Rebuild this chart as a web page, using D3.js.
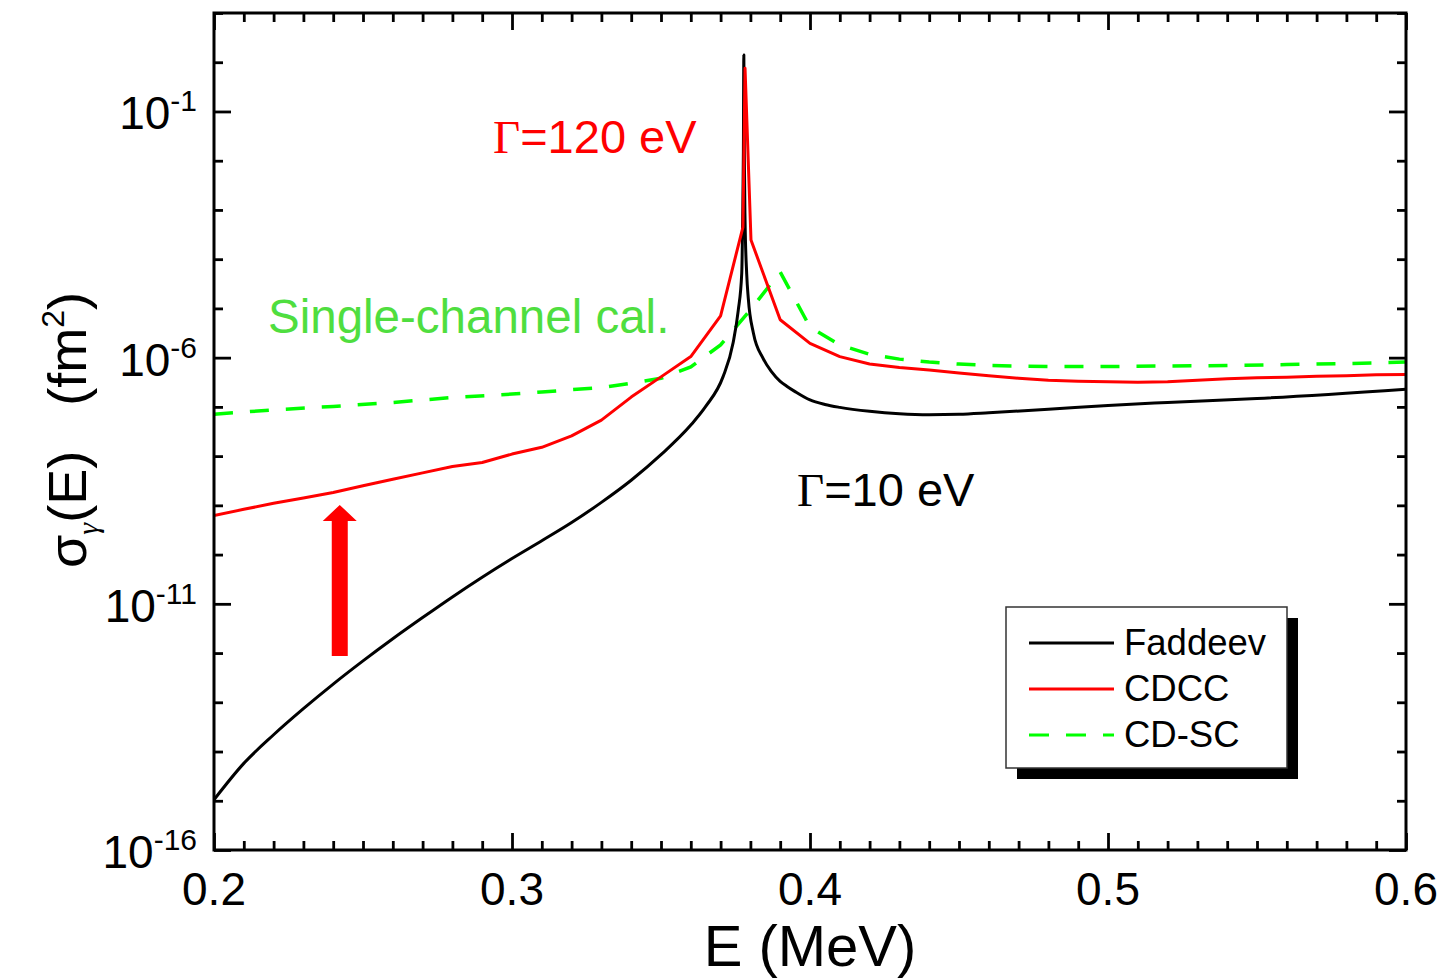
<!DOCTYPE html>
<html><head><meta charset="utf-8">
<script src="https://cdn.jsdelivr.net/npm/d3@7"></script>
<style>body{margin:0;background:#fff;} svg{display:block;}</style>
</head><body>
<svg id="chart" width="1441" height="979"></svg>
<script>
// ---- data ----
const energyFaddeev = [0.20,0.21,0.22,0.23,0.24,0.25,0.26,0.27,0.28,0.29,0.30,0.31,0.32,0.33,0.34,0.35,0.36,0.365,0.3708,0.3742,0.3759,0.3771,0.3774,0.37765,0.3778,0.37795,0.3782,0.37876,0.3793,0.3810,0.3843,0.3870,0.3900,0.3922,0.3950,0.40,0.405,0.41,0.42,0.43,0.44,0.45,0.46,0.48,0.50,0.52,0.55,0.60];
const sigmaFaddeev = [1.05e-15,5.75e-15,2.19e-14,7.41e-14,2.34e-13,6.92e-13,1.95e-12,5.25e-12,1.38e-11,3.47e-11,8.32e-11,1.91e-10,4.47e-10,1.15e-9,3.24e-9,1.07e-8,4.27e-8,1.02e-7,4.07e-7,2.0e-6,8.9e-6,5.25e-5,6.3e-4,1.58e-2,1.41,1.58e-2,6.3e-4,5.0e-5,1.58e-5,3.16e-6,9.55e-7,5.25e-7,3.31e-7,2.63e-7,2.04e-7,1.38e-7,1.12e-7,9.77e-8,8.13e-8,7.24e-8,6.92e-8,7.08e-8,7.59e-8,8.91e-8,1.07e-7,1.23e-7,1.48e-7,2.29e-7];

const energyCDCC = [0.20,0.21,0.22,0.23,0.24,0.25,0.26,0.27,0.28,0.29,0.30,0.31,0.32,0.33,0.34,0.35,0.36,0.37,0.3775,0.3782,0.3802,0.39,0.40,0.41,0.42,0.43,0.44,0.45,0.46,0.47,0.48,0.49,0.50,0.51,0.52,0.53,0.54,0.55,0.56,0.57,0.58,0.59,0.60];
const sigmaCDCC = [6.2e-10,8.3e-10,1.1e-9,1.41e-9,1.82e-9,2.51e-9,3.39e-9,4.57e-9,6.17e-9,7.41e-9,1.10e-8,1.51e-8,2.57e-8,5.37e-8,1.58e-7,4.07e-7,1.05e-6,7.08e-6,4.47e-4,0.753,2.45e-4,5.89e-6,1.95e-6,1.05e-6,7.41e-7,6.31e-7,5.62e-7,4.90e-7,4.27e-7,3.80e-7,3.47e-7,3.31e-7,3.24e-7,3.16e-7,3.24e-7,3.47e-7,3.72e-7,3.89e-7,3.98e-7,4.17e-7,4.27e-7,4.47e-7,4.57e-7];

const energyCDSC = [0.20,0.22,0.24,0.26,0.28,0.30,0.31,0.32,0.33,0.34,0.35,0.36,0.37,0.38,0.39,0.40,0.41,0.42,0.43,0.44,0.45,0.46,0.48,0.50,0.52,0.54,0.56,0.58,0.60];
const sigmaCDSC = [7.08e-8,8.71e-8,1.02e-7,1.23e-7,1.55e-7,1.82e-7,2.0e-7,2.24e-7,2.45e-7,3.02e-7,3.80e-7,6.46e-7,1.82e-6,9.33e-6,5.50e-5,4.17e-6,1.82e-6,1.17e-6,9.33e-7,8.13e-7,7.41e-7,6.92e-7,6.61e-7,6.61e-7,6.76e-7,6.92e-7,7.24e-7,7.59e-7,8.13e-7];

const xMajorTicks = [0.2,0.3,0.4,0.5,0.6];
const xTickLabels = ["0.2","0.3","0.4","0.5","0.6"];
const yMajorExponents = [-16,-11,-6,-1];
const legendLabels = ["Faddeev","CDCC","CD-SC"];
const seriesColors = ["#000000","#ff0000","#00ff00"];

// arrow annotation (data units)
const arrowEnergy = 0.2422, arrowBase = 8.7e-13, arrowTip = 1.02e-9;

// ---- layout ----
const L = 214, R = 1406, T = 13, B = 850;
const svg = d3.select("#chart");
const x = d3.scaleLinear().domain([0.2, 0.6]).range([L, R]);
const y = d3.scaleLog().domain([1e-16, 1e1]).range([B, T]);
const FONT = "'Liberation Sans', Arial, Helvetica, sans-serif";
const SERIF = "'Liberation Serif', 'Times New Roman', serif";

const xMinor = d3.range(20, 61).map(d => d / 100).filter(v => !xMajorTicks.some(m => Math.abs(m - v) < 1e-9));
const yDecades = d3.range(-16, 2).map(e => Math.pow(10, e));
const yMinor = yDecades.filter(v => !yMajorExponents.includes(Math.round(Math.log10(v))));
const yMajor = yMajorExponents.map(e => Math.pow(10, e));

function styleAxis(g) {
  g.select(".domain").remove();
  g.selectAll(".tick line").attr("stroke", "#000").attr("stroke-width", 2.8);
  g.selectAll(".tick text").remove();
}
svg.append("g").attr("transform", `translate(0,${B})`).call(d3.axisBottom(x).tickValues(xMinor).tickSize(-9)).call(styleAxis);
svg.append("g").attr("transform", `translate(0,${B})`).call(d3.axisBottom(x).tickValues(xMajorTicks).tickSize(-17)).call(styleAxis);
svg.append("g").attr("transform", `translate(0,${T})`).call(d3.axisTop(x).tickValues(xMinor).tickSize(-9)).call(styleAxis);
svg.append("g").attr("transform", `translate(0,${T})`).call(d3.axisTop(x).tickValues(xMajorTicks).tickSize(-17)).call(styleAxis);
svg.append("g").attr("transform", `translate(${L},0)`).call(d3.axisLeft(y).tickValues(yMinor).tickSize(-9)).call(styleAxis);
svg.append("g").attr("transform", `translate(${L},0)`).call(d3.axisLeft(y).tickValues(yMajor).tickSize(-17)).call(styleAxis);
svg.append("g").attr("transform", `translate(${R},0)`).call(d3.axisRight(y).tickValues(yMinor).tickSize(-9)).call(styleAxis);
svg.append("g").attr("transform", `translate(${R},0)`).call(d3.axisRight(y).tickValues(yMajor).tickSize(-17)).call(styleAxis);

// curves
const plot = svg.append("g");
plot.append("defs").append("clipPath").attr("id", "clip").append("rect").attr("x", L).attr("y", T).attr("width", R - L).attr("height", B - T);
const cg = plot.append("g").attr("clip-path", "url(#clip)");

const lineSmooth = d3.line().x(d => x(d[0])).y(d => y(d[1])).curve(d3.curveMonotoneX);
const lineLin = d3.line().x(d => x(d[0])).y(d => y(d[1]));

cg.append("path").datum(d3.zip(energyCDSC, sigmaCDSC)).attr("d", lineLin)
  .attr("fill", "none").attr("stroke", seriesColors[2]).attr("stroke-width", 3.5)
  .attr("stroke-dasharray", "19,17");
cg.append("path").datum(d3.zip(energyFaddeev, sigmaFaddeev)).attr("d", lineSmooth)
  .attr("fill", "none").attr("stroke", seriesColors[0]).attr("stroke-width", 3).attr("stroke-linejoin", "round");
cg.append("path").datum(d3.zip(energyCDCC, sigmaCDCC)).attr("d", lineLin)
  .attr("fill", "none").attr("stroke", seriesColors[1]).attr("stroke-width", 3).attr("stroke-linejoin", "round");

// frame
svg.append("rect").attr("x", L).attr("y", T).attr("width", R - L).attr("height", B - T)
  .attr("fill", "none").attr("stroke", "#000").attr("stroke-width", 3);

// x tick labels
svg.append("g").selectAll("text").data(xMajorTicks).join("text")
  .attr("x", d => x(d)).attr("y", 905).attr("text-anchor", "middle")
  .attr("font-family", FONT).attr("font-size", 46).attr("fill", "#000")
  .text((d, i) => xTickLabels[i]);

// y tick labels 10^e
const yl = svg.append("g").selectAll("text").data(yMajorExponents).join("text")
  .attr("x", 197).attr("y", d => y(Math.pow(10, d)) + 18).attr("text-anchor", "end")
  .attr("font-family", FONT).attr("font-size", 46).attr("fill", "#000");
yl.append("tspan").text("10");
yl.append("tspan").attr("dy", -18).attr("font-size", 30).text(d => String(d));

// axis titles
svg.append("text").attr("x", x(0.4)).attr("y", 966).attr("text-anchor", "middle")
  .attr("font-family", FONT).attr("font-size", 58).attr("fill", "#000").text("E (MeV)");

const yt = svg.append("text").attr("transform", "translate(86,430) rotate(-90)")
  .attr("text-anchor", "middle").attr("font-family", FONT).attr("font-size", 54).attr("fill", "#000");
yt.append("tspan").text("σ");
yt.append("tspan").attr("font-size", 30).attr("font-family", SERIF).attr("font-style", "italic").attr("dy", 12).text("γ");
yt.append("tspan").attr("dy", -12).text("(E)\u00a0\u00a0\u00a0(fm");
yt.append("tspan").attr("font-size", 32).attr("dy", -22).text("2");
yt.append("tspan").attr("dy", 22).text(")");

// annotations
const a1 = svg.append("text").attr("x", 493).attr("y", 153).attr("font-family", FONT).attr("font-size", 47).attr("fill", "#ff0000");
a1.append("tspan").attr("font-family", SERIF).text("Γ");
a1.append("tspan").text("=120 eV");
svg.append("text").attr("x", 268).attr("y", 333).attr("font-family", FONT).attr("font-size", 47.5)
  .attr("fill", "#4fde3f").text("Single-channel cal.");
const a2 = svg.append("text").attr("x", 797).attr("y", 506).attr("font-family", FONT).attr("font-size", 47).attr("fill", "#000");
a2.append("tspan").attr("font-family", SERIF).text("Γ");
a2.append("tspan").text("=10 eV");

// red arrow
const ax = x(arrowEnergy), ab = y(arrowBase), at = y(arrowTip);
const sw = 8, hw = 17, hh = 16;
svg.append("path").attr("fill", "#ff0000")
  .attr("d", `M${ax - sw},${ab} L${ax - sw},${at + hh} L${ax - hw},${at + hh} L${ax},${at} L${ax + hw},${at + hh} L${ax + sw},${at + hh} L${ax + sw},${ab} Z`);

// legend
const lg = svg.append("g");
lg.append("rect").attr("x", 1017).attr("y", 618).attr("width", 281).attr("height", 161).attr("fill", "#000");
lg.append("rect").attr("x", 1006).attr("y", 607).attr("width", 281).attr("height", 161)
  .attr("fill", "#fff").attr("stroke", "#333").attr("stroke-width", 1.5);
const rows = [643, 689, 735];
legendLabels.forEach((lab, i) => {
  lg.append("line").attr("x1", 1029).attr("x2", 1114).attr("y1", rows[i]).attr("y2", rows[i])
    .attr("stroke", seriesColors[i]).attr("stroke-width", 3.2)
    .attr("stroke-dasharray", i === 2 ? "20,17" : null);
  lg.append("text").attr("x", 1124).attr("y", rows[i] + 12).attr("font-family", FONT)
    .attr("font-size", 36.5).attr("fill", "#000").text(lab);
});
</script>
</body></html>
